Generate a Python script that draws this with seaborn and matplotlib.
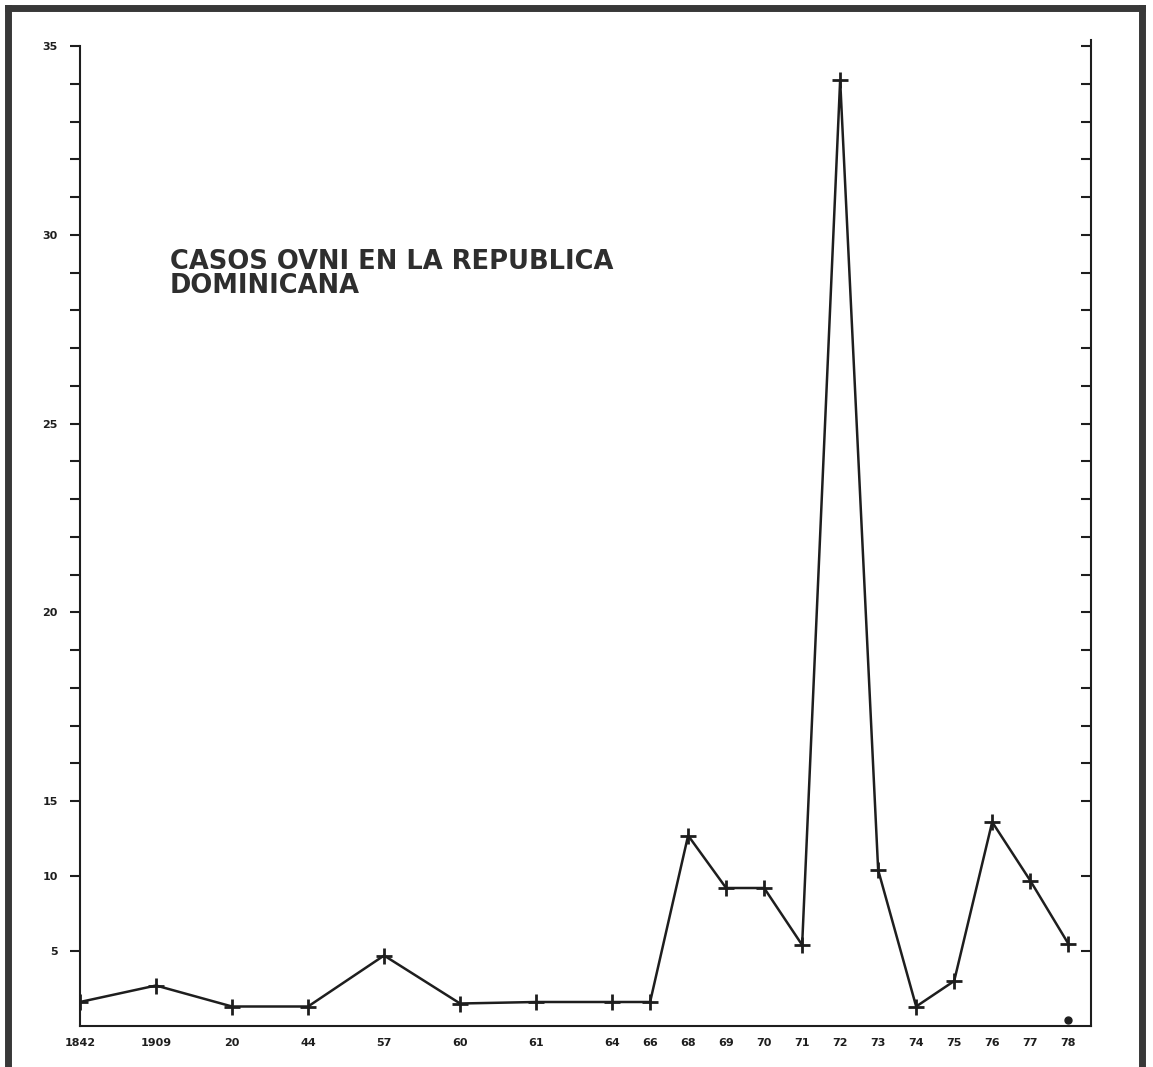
import numpy as np
import pandas as pd
import matplotlib
matplotlib.use("Agg")
import matplotlib.pyplot as plt
from matplotlib.lines import Line2D
import seaborn as sns

# values
years = ["1842", "1909", "20", "44", "57", "60", "61", "64", "66", "68",
         "69", "70", "71", "72", "73", "74", "75", "76", "77", "78"]
slot = [0, 2, 4, 6, 8, 10, 12, 14, 15, 16, 17, 18, 19, 20, 21, 22, 23, 24, 25, 26]
cases = [1.6, 2.7, 1.3, 1.3, 4.7, 1.5, 1.6, 1.6, 1.6, 12.7,
         9.2, 9.2, 5.4, 34.1, 10.4, 1.3, 3.0, 13.6, 9.7, 5.5]
dot_slot = [26]
dot_value = [0.4]

y_labels = [5, 10, 15, 20, 25, 30, 35]
y_minor = [v for v in range(16, 35) if v % 5 != 0]

df = pd.DataFrame({"slot": slot, "cases": cases, "year": years})

sns.set_style("white")
plt.rcParams["font.family"] = ["DejaVu Sans"]

ink = "#1e1e1e"

# the drawing squeezes 0-15 and stretches 15-35
def fwd(v):
    return np.interp(v, [0, 15, 40], [0, 225, 225 + 25 * 37.75])

def inv(p):
    return np.interp(p, [0, 225, 225 + 25 * 37.75], [0, 15, 40])

fig = plt.figure(figsize=(11.53, 10.67), dpi=100)
ax = fig.add_axes([80 / 1153, 1 - 1026 / 1067, (1091 - 80) / 1153, (1026 - 40) / 1067])

sns.lineplot(data=df, x="slot", y="cases", ax=ax, color=ink, linewidth=1.8,
             marker="+", markersize=12, markeredgewidth=2, markeredgecolor=ink)
ax.plot(dot_slot, dot_value, "o", color=ink, markersize=5)

ax.set_yscale("function", functions=(fwd, inv))
ax.set_xlim(0, 26.6)
ax.set_ylim(0, 35.16)

ax.set_xticks(slot)
ax.set_xticklabels(years, fontsize=8, fontweight="bold", color=ink)
ax.set_yticks(y_labels)
ax.set_yticklabels([str(v) for v in y_labels], fontsize=8, fontweight="bold", color=ink)
ax.set_yticks(y_minor, minor=True)
ax.tick_params(axis="x", direction="in", length=7, width=1.5, color=ink, pad=9)
ax.tick_params(axis="y", which="both", direction="out", length=7, width=1.5,
               color=ink, pad=9)
ax.set_xlabel("")
ax.set_ylabel("")

for side in ["top", "right"]:
    ax.spines[side].set_visible(False)
for side in ["left", "bottom"]:
    ax.spines[side].set_color(ink)
    ax.spines[side].set_linewidth(1.5)
ax.spines["left"].set_bounds(0, 35)

# right-hand scale, ticks only
ax2 = ax.twinx()
ax2.set_yscale("function", functions=(fwd, inv))
ax2.set_ylim(0, 35.16)
ax2.set_yticks([5, 10] + list(range(15, 36)))
ax2.set_yticklabels([])
ax2.tick_params(axis="y", direction="in", length=7, width=1.5, color=ink)
for side in ["top", "left", "bottom"]:
    ax2.spines[side].set_visible(False)
ax2.spines["right"].set_color(ink)
ax2.spines["right"].set_linewidth(1.5)
ax2.grid(False)
ax.grid(False)

fig.text(170 / 1153, 1 - 249 / 1067, "CASOS OVNI EN LA REPUBLICA\nDOMINICANA",
         ha="left", va="top", fontsize=18.5, fontweight="bold", color="#2e2e2e",
         family=["DejaVu Sans"], linespacing=0.9)

# thick page frame (no bottom edge)
frame = "#383838"
fig.add_artist(Line2D([8 / 1153, 8 / 1153], [0, 1 - 8 / 1067], transform=fig.transFigure,
                      color=frame, linewidth=5, solid_capstyle="projecting"))
fig.add_artist(Line2D([8 / 1153, 1142 / 1153], [1 - 8 / 1067, 1 - 8 / 1067],
                      transform=fig.transFigure, color=frame, linewidth=5,
                      solid_capstyle="projecting"))
fig.add_artist(Line2D([1142 / 1153, 1142 / 1153], [1 - 8 / 1067, 0],
                      transform=fig.transFigure, color=frame, linewidth=5,
                      solid_capstyle="projecting"))

fig.savefig("out.png", dpi=100)
